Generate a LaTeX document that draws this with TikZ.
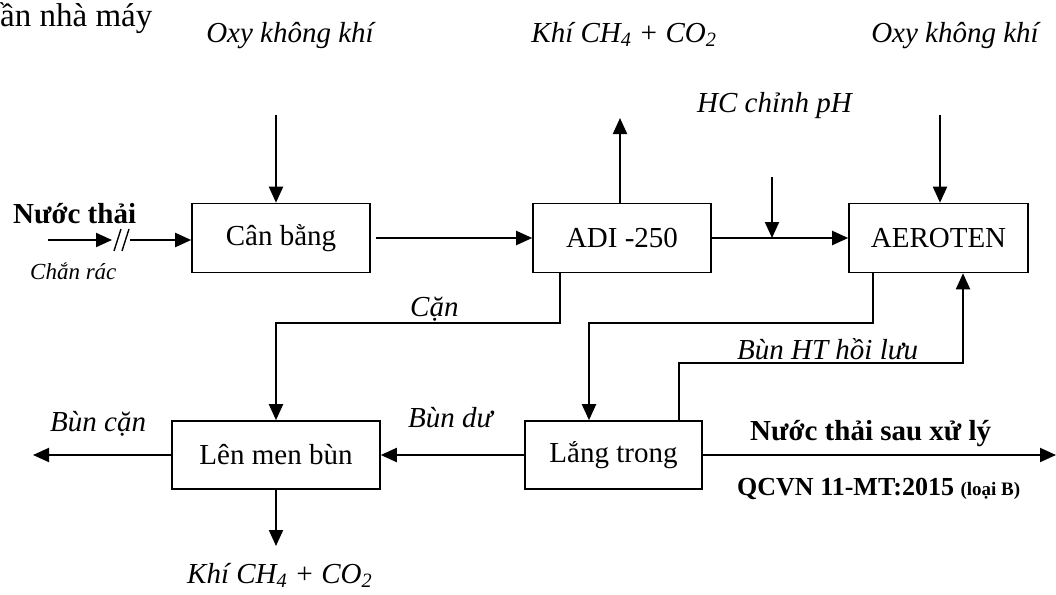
\documentclass[tikz,border=0pt]{standalone}
\usepackage{fontspec}
\setmainfont{Liberation Serif}
\usetikzlibrary{arrows.meta}
\newcommand\myfs{\fontsize{29}{34}\selectfont}
\begin{document}
\begin{tikzpicture}[x=1pt,y=-1pt,
  box/.style={draw,line width=1.6pt,minimum width=#1,minimum height=69pt,inner sep=0pt,font=\myfs},
  box/.default=178pt,
  flow/.style={line width=2pt,-{Triangle[length=16pt,width=14pt]}},
  lbl/.style={font=\myfs\itshape,inner sep=0pt},
  blbl/.style={font=\myfs\bfseries,inner sep=0pt}]
\useasboundingbox (0,0) rectangle (1056,594);

% boxes
\node[box] (cb) at (281,238) {Cân bằng};
\node[box] (adi) at (622,238) {ADI -250};
\node[box=179pt] (aer) at (938.5,238) {AEROTEN};
\node[box=208pt,minimum height=68pt] (lmb) at (276,455) {Lên men bùn};
\node[box=177pt,minimum height=68pt] (lt) at (613.5,455) {Lắng trong};

% texts
\node[anchor=base west,inner sep=0pt,font=\fontsize{33}{38}\selectfont] (hdr) at (0,27) {ần nhà máy};
\node[lbl,anchor=base] (oxy1) at (290,42) {Oxy không khí};
\node[lbl,anchor=base] (khi1) at (624,42) {Khí CH\textsubscript{4} + CO\textsubscript{2}};
\node[lbl,anchor=base] (oxy2) at (955,42) {Oxy không khí};
\node[lbl,anchor=base west] (hc) at (697,112) {HC chỉnh pH};
\node[blbl,anchor=base west] (nt) at (13,223) {Nước thải};
\node[lbl,anchor=base west,font=\fontsize{23}{27}\selectfont\itshape] (cr) at (30,279) {Chắn rác};
\node[lbl,anchor=base west] (can) at (410,316) {Cặn};
\node[lbl,anchor=base west] (hl) at (737,359) {Bùn HT hồi lưu};
\node[lbl,anchor=base west] (bd) at (408,427) {Bùn dư};
\node[lbl,anchor=base west] (bcn) at (50,431) {Bùn cặn};
\node[lbl,anchor=base west] (khi2) at (187,583) {Khí CH\textsubscript{4} + CO\textsubscript{2}};
\node[blbl,anchor=base west] (nts) at (750,440) {Nước thải sau xử lý};
\node[anchor=base west,inner sep=0pt,font=\fontsize{26}{30}\selectfont\bfseries] (qc) at (737,495) {QCVN 11-MT:2015 {\fontsize{19}{22}\selectfont(loại B)}};

% input
\coordinate (in0) at (48,240);
\coordinate (in1) at (112,240);
\coordinate (in2) at (130,240);
\draw[flow] (in0) -- (in1);
\draw[line width=1.4pt] (114,251) -- (121,229) (122,251) -- (129,229);
\draw[flow] (in2) -- (in2 -| cb.west);

% top row
\draw[flow,shorten <=5pt] (cb.east) -- (adi.west);
\draw[flow] (adi.east) -- (aer.west);
\coordinate (o1) at (276,115);
\draw[flow] (o1) -- (o1 |- cb.north);
\coordinate (o2) at (940,115);
\draw[flow] (o2) -- (o2 |- aer.north);
\coordinate (g1) at (620,118);
\draw[flow] (g1 |- adi.north) -- (g1);
\coordinate (hc0) at (772,177);
\coordinate (hc1) at (772,238);
\draw[flow] (hc0) -- (hc1);

% Cặn
\coordinate (c0) at (560,238);
\coordinate (c1) at (276,323);
\draw[flow] (c0 |- adi.south) |- (c1) -- (lmb.north);

% AEROTEN -> Lắng trong
\coordinate (a0) at (873,238);
\coordinate (a1) at (589,323);
\draw[flow] (a0 |- aer.south) |- (a1) -- (a1 |- lt.north);

% hồi lưu
\coordinate (h0) at (679,455);
\coordinate (h1) at (963,363);
\draw[flow] (h0 |- lt.north) |- (h1) -- (h1 |- aer.south);

% bottom row
\draw[flow] (lt.west) -- (lmb.east);
\coordinate (bl) at (33,455);
\draw[flow] (lmb.west) -- (bl);
\coordinate (g2) at (276,546);
\draw[flow] (lmb.south) -- (g2);
\coordinate (out) at (1056,455);
\draw[flow] (lt.east) -- (out);
\end{tikzpicture}
\end{document}
